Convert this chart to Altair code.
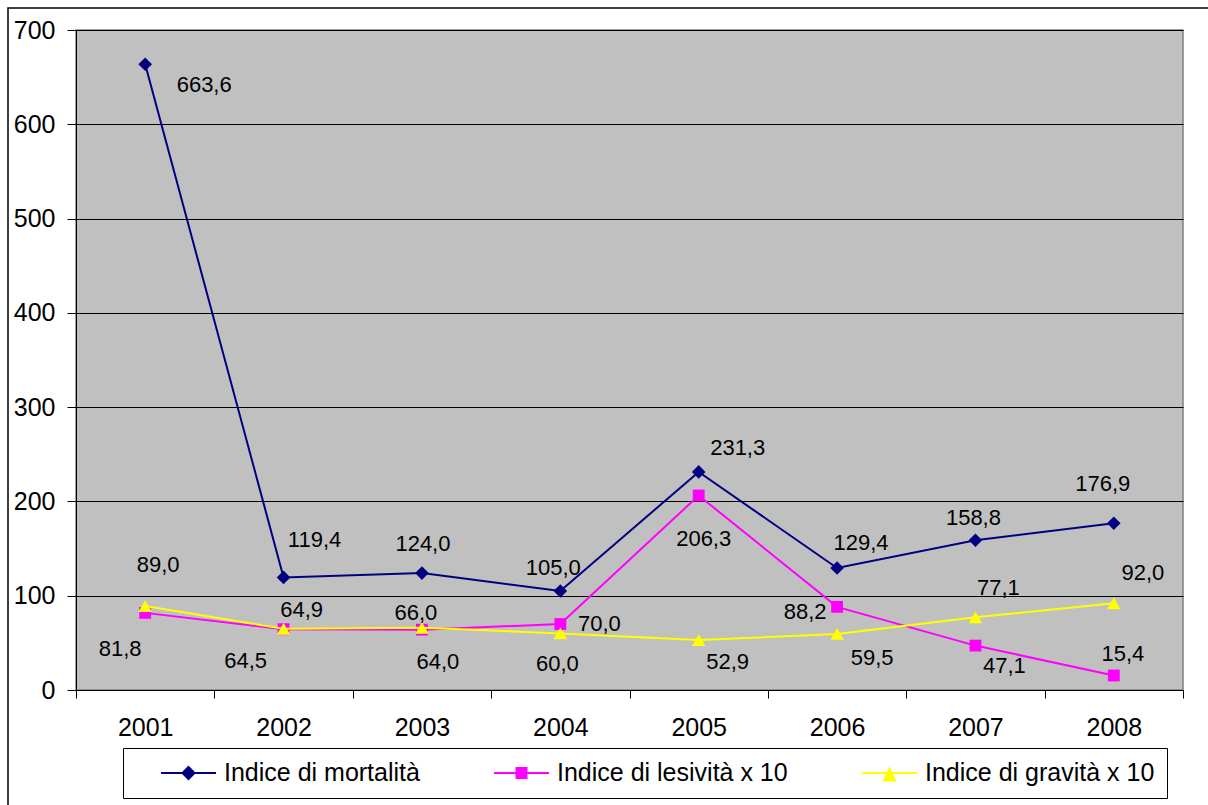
import altair as alt
import pandas as pd

# ---- data -------------------------------------------------------------
years = ["2001", "2002", "2003", "2004", "2005", "2006", "2007", "2008"]

series_names = [
    "Indice di mortalità",
    "Indice di lesività x 10",
    "Indice di gravità x 10",
]

mortalita = [663.6, 119.4, 124.0, 105.0, 231.3, 129.4, 158.8, 176.9]
lesivita = [81.8, 64.5, 64.0, 70.0, 206.3, 88.2, 47.1, 15.4]
gravita = [89.0, 64.9, 66.0, 60.0, 52.9, 59.5, 77.1, 92.0]

# ---- value-label nudges (pixels, relative to each point) ---------------
mort_dx = [59, 31, 1, -7, 39, 24, -2, -11]
mort_dy = [21, -37, -29, -23, -24, -25, -22, -39]
les_dx = [-25, -38, 16, 39, 5, -32, 29, 9]
les_dy = [36, 32, 32, 0, 44, 5, 20, -21]
grav_dx = [13, 18, -6, -3, 29, 35, 23, 29]
grav_dy = [-41, -19, -15, 31, 22, 24, -29, -30]

# ---- styling ----------------------------------------------------------
colors = ["#000080", "#FF00FF", "#FFFF00"]
shapes = ["diamond", "square", "triangle-up"]
sizes = [185, 140, 185]

# legend glyphs: a line segment with the series marker in the middle
legend_paths = [
    "M-0.375,0L1,0M0.3125,-0.15L0.4625,0L0.3125,0.15L0.1625,0Z",
    "M-0.375,0L1,0M0.1875,-0.125L0.4375,-0.125L0.4375,0.125L0.1875,0.125Z",
    "M-0.375,0L1,0M0.3125,-0.11L0.4525,0.19L0.1725,0.19Z",
]

values_by_series = [mortalita, lesivita, gravita]
dx_by_series = [mort_dx, les_dx, grav_dx]
dy_by_series = [mort_dy, les_dy, grav_dy]

rows = []
for name, vals in zip(series_names, values_by_series):
    for yr, v in zip(years, vals):
        rows.append(
            {
                "year": yr,
                "series": name,
                "value": v,
                "label": f"{v:.1f}".replace(".", ","),
            }
        )
df = pd.DataFrame(rows)

base = alt.Chart(df)

x_enc = alt.X(
    "year:N",
    sort=years,
    scale=alt.Scale(domain=years, paddingInner=0, paddingOuter=0),
    axis=alt.Axis(
        title=None,
        labelAngle=0,
        tickBand="extent",
        tickSize=8,
        labelPadding=17,
        labelFontSize=25,
        labelColor="black",
        grid=False,
        domainColor="black",
        tickColor="black",
    ),
)
y_enc = alt.Y(
    "value:Q",
    scale=alt.Scale(domain=[0, 700], nice=False),
    axis=alt.Axis(
        title=None,
        values=list(range(0, 701, 100)),
        tickSize=9,
        labelPadding=12,
        labelFontSize=25,
        labelColor="black",
        gridColor="black",
        gridWidth=1,
        gridOpacity=1,
        domainColor="black",
        tickColor="black",
    ),
)

series_layers = []
for name, col, shp, sz in zip(series_names, colors, shapes, sizes):
    sub = base.transform_filter(alt.datum.series == name)
    series_layers.append(
        sub.mark_line(color=col, strokeWidth=2).encode(x=x_enc, y=y_enc)
    )
    series_layers.append(
        sub.mark_point(shape=shp, filled=True, size=sz, color=col, opacity=1).encode(
            x=x_enc, y=y_enc
        )
    )

# value labels, each nudged away from its marker
label_layers = []
for name, dxs, dys in zip(series_names, dx_by_series, dy_by_series):
    for yr, dx, dy in zip(years, dxs, dys):
        label_layers.append(
            base.transform_filter(
                (alt.datum.series == name) & (alt.datum.year == yr)
            )
            .mark_text(
                fontSize=22, color="black", align="center", baseline="middle",
                dx=dx, dy=dy,
            )
            .encode(x=x_enc, y=y_enc, text="label:N")
        )

legend_spec = alt.Legend(
    title=None,
    orient="none",
    legendX=47,
    legendY=718,
    direction="horizontal",
    columns=3,
    columnPadding=48,
    padding=12,
    strokeColor="black",
    fillColor="white",
    symbolSize=6400,
    symbolStrokeWidth=2,
    symbolOpacity=1,
    clipHeight=26,
    labelFontSize=25,
    labelOffset=7,
    labelLimit=400,
    labelColor="black",
)

legend_layer = (
    base.transform_filter("false")
    .mark_point(filled=True)
    .encode(
        fill=alt.Fill(
            "series:N",
            scale=alt.Scale(domain=series_names, range=colors),
            legend=legend_spec,
        ),
        stroke=alt.Stroke(
            "series:N",
            scale=alt.Scale(domain=series_names, range=colors),
            legend=legend_spec,
        ),
        shape=alt.Shape(
            "series:N",
            scale=alt.Scale(domain=series_names, range=legend_paths),
            legend=legend_spec,
        ),
    )
)

# outer frame around the whole figure
frame = (
    alt.Chart(pd.DataFrame({"k": [0]}))
    .mark_rect(fill="transparent", stroke="black", strokeWidth=1.5)
    .encode(
        x=alt.value(-68),
        x2=alt.value(1145),
        y=alt.value(-22),
        y2=alt.value(790),
    )
)

chart = (
    alt.layer(frame, *series_layers, legend_layer, *label_layers)
    .properties(
        width=1107,
        height=660,
        padding={"left": 76, "top": 30, "right": 25, "bottom": 115},
        autosize=alt.AutoSizeParams(type="none"),
        background="white",
        view=alt.ViewBackground(fill="#C0C0C0", stroke="#808080", strokeWidth=1.5),
    )
    .configure(font="Liberation Sans")
    .configure_view(fill="#C0C0C0", stroke="#808080", strokeWidth=1.5)
)

chart.save("out.html", embed_options={"renderer": "svg", "actions": False})
